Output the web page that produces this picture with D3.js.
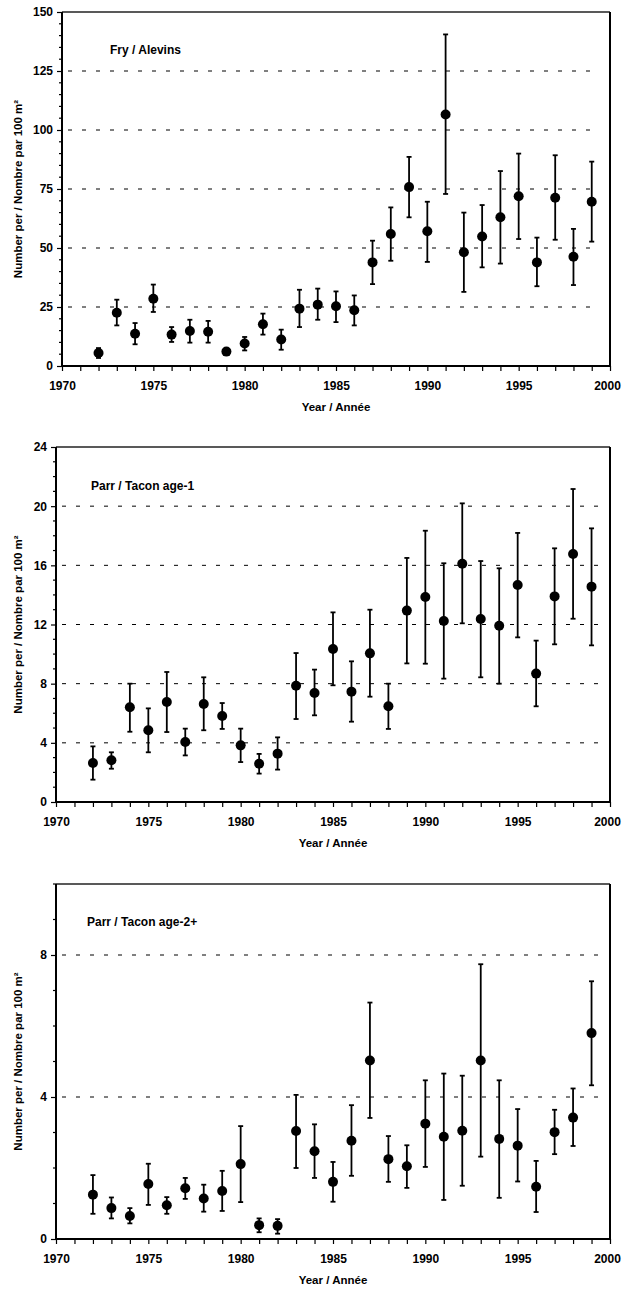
<!DOCTYPE html>
<html>
<head>
<meta charset="utf-8">
<script src="https://d3js.org/d3.v7.min.js"></script>
<style>
  body { margin: 0; background: #fff; }
  svg text { font-family: Arial, "Liberation Sans", sans-serif; font-weight: bold; fill: #000; }
</style>
</head>
<body>
<div id="chart"></div>
<script>
"use strict";

var years = [1972, 1973, 1974, 1975, 1976, 1977, 1978, 1979, 1980, 1981, 1982, 1983, 1984, 1985,
             1986, 1987, 1988, 1989, 1990, 1991, 1992, 1993, 1994, 1995, 1996, 1997, 1998, 1999];

// fry / alevins
var fryMean = [5.5, 22.6, 13.7, 28.5, 13.3, 14.8, 14.5, 6.1, 9.5, 17.7, 11.2, 24.3, 26.0, 25.3,
               23.6, 43.9, 55.9, 75.8, 57.1, 106.6, 48.2, 54.9, 63.0, 71.9, 43.9, 71.3, 46.3, 69.6];
var fryLow  = [3.4, 17.2, 9.2, 22.9, 10.2, 9.9, 9.9, 5.0, 6.6, 13.3, 6.9, 16.5, 19.6, 18.6,
               17.2, 34.7, 44.6, 63.0, 44.1, 72.9, 31.4, 41.8, 43.4, 53.8, 33.8, 53.5, 34.3, 52.7];
var fryHigh = [7.6, 28.1, 18.2, 34.5, 16.5, 19.6, 19.1, 7.2, 12.3, 22.2, 15.4, 32.3, 32.8, 31.6,
               29.9, 53.1, 67.2, 88.6, 69.6, 140.5, 65.0, 68.2, 82.6, 90.0, 54.4, 89.3, 58.1, 86.6];

// parr age-1
var age1Mean = [2.64, 2.82, 6.40, 4.85, 6.76, 4.06, 6.63, 5.81, 3.83, 2.59, 3.27, 7.86, 7.37, 10.34,
                7.46, 10.05, 6.47, 12.94, 13.86, 12.24, 16.11, 12.37, 11.92, 14.67, 8.68, 13.90, 16.77, 14.56];
var age1Low  = [1.51, 2.25, 4.75, 3.36, 4.73, 3.15, 4.85, 4.94, 2.70, 1.92, 2.19, 5.61, 5.86, 7.89,
                5.43, 7.12, 4.94, 9.37, 9.35, 8.34, 12.08, 8.43, 8.00, 11.13, 6.47, 10.66, 12.39, 10.59];
var age1High = [3.76, 3.36, 8.00, 6.33, 8.79, 4.96, 8.43, 6.69, 4.96, 3.25, 4.37, 10.07, 8.95, 12.82,
                9.51, 13.00, 8.00, 16.50, 18.34, 16.14, 20.19, 16.29, 15.80, 18.19, 10.91, 17.15, 21.16, 18.50];

// parr age-2+
var age2Mean = [1.25, 0.87, 0.65, 1.55, 0.95, 1.43, 1.14, 1.35, 2.11, 0.39, 0.37, 3.04, 2.47, 1.61,
                2.77, 5.03, 2.25, 2.05, 3.25, 2.88, 3.05, 5.03, 2.82, 2.63, 1.47, 3.01, 3.42, 5.80];
var age2Low  = [0.71, 0.58, 0.44, 0.96, 0.71, 1.13, 0.77, 0.79, 1.04, 0.19, 0.15, 2.00, 1.72, 1.05,
                1.78, 3.41, 1.61, 1.44, 2.03, 1.10, 1.50, 2.32, 1.16, 1.62, 0.76, 2.39, 2.62, 4.33];
var age2High = [1.80, 1.17, 0.87, 2.12, 1.18, 1.72, 1.53, 1.92, 3.18, 0.58, 0.56, 4.06, 3.23, 2.17,
                3.77, 6.66, 2.90, 2.64, 4.47, 4.66, 4.60, 7.74, 4.47, 3.66, 2.20, 3.64, 4.24, 7.26];

var xTicks = [1970, 1975, 1980, 1985, 1990, 1995, 2000];
var fryTicks = [0, 25, 50, 75, 100, 125, 150];
var age1Ticks = [0, 4, 8, 12, 16, 20, 24];
var age2Ticks = [0, 4, 8];

var yTitle = "Number per / Nombre par 100 m²";
var xTitle = "Year / Année";

var svg = d3.select("#chart").append("svg").attr("width", 622).attr("height", 1291);

function drawPanel(p) {
  var x = d3.scaleLinear().domain([1970, 2000]).range([p.left, 610]);
  var y = d3.scaleLinear().domain([0, p.ymax]).range([p.bottom, p.top]);
  var g = svg.append("g");

  // dashed grid
  g.selectAll(".grid").data(p.grid).enter().append("line")
    .attr("x1", p.left).attr("x2", 600)
    .attr("y1", function(d) { return y(d); }).attr("y2", function(d) { return y(d); })
    .attr("stroke", "#000").attr("stroke-width", 1)
    .attr("stroke-dasharray", "4,10").attr("stroke-dashoffset", -6 - 14);

  // frame top / right
  g.append("line").attr("x1", p.left).attr("x2", 610).attr("y1", p.top).attr("y2", p.top)
    .attr("stroke", "#222").attr("stroke-width", 1.5);
  g.append("line").attr("x1", 610).attr("x2", 610).attr("y1", p.top).attr("y2", p.bottom)
    .attr("stroke", "#000").attr("stroke-width", 2);

  // y axis
  var yAxis = d3.axisLeft(y).tickValues(p.ticks).tickSize(5).tickPadding(4).tickFormat(d3.format("d"));
  var ya = g.append("g").attr("transform", "translate(" + p.left + ",0)").call(yAxis);
  var minor = d3.range(0, p.ymax + 0.001, p.minor).filter(function(v) { return p.ticks.indexOf(v) < 0; });
  ya.selectAll(".minor").data(minor).enter().append("line").attr("class", "minor")
    .attr("x1", -3).attr("x2", 0)
    .attr("y1", function(d) { return y(d); }).attr("y2", function(d) { return y(d); })
    .attr("stroke", "#000").attr("stroke-width", 1.2);

  // x axis
  var xAxis = d3.axisBottom(x).tickValues(d3.range(1970, 2001)).tickSize(5).tickPadding(10)
    .tickFormat(function(d) { return xTicks.indexOf(d) >= 0 ? d : ""; });
  var xa = g.append("g").attr("transform", "translate(0," + p.bottom + ")").call(xAxis);

  [ya, xa].forEach(function(a) {
    a.select(".domain").attr("stroke", "#000").attr("stroke-width", 2);
    a.selectAll(".tick line").attr("stroke", "#000").attr("stroke-width", 1.2);
    a.selectAll("text").style("font-size", "12px").style("font-weight", "bold")
      .style("font-family", "Arial, 'Liberation Sans', sans-serif").attr("fill", "#000");
  });
  ya.select(".domain").attr("d", "M0," + p.top + "V" + p.bottom);
  xa.select(".domain").attr("d", "M" + p.left + ",0H610");
  // last year label sits against the page edge
  xa.selectAll(".tick text").filter(function(d) { return d === 2000; }).attr("dx", "-3");

  // titles
  g.append("text").attr("x", p.titleX).attr("y", p.titleY).attr("dy", "0.35em")
    .style("font-size", "12px").text(p.title);
  g.append("text").attr("x", (p.left + 610) / 2).attr("y", p.bottom + 41).attr("dy", "0.35em")
    .attr("text-anchor", "middle").style("font-size", "11.5px").text(xTitle);
  g.append("text")
    .attr("transform", "translate(18," + ((p.top + p.bottom) / 2) + ") rotate(-90)")
    .attr("dy", "0.35em").attr("text-anchor", "middle").style("font-size", "11.5px").text(yTitle);

  // error bars
  var eb = g.selectAll(".eb").data(years).enter().append("g").attr("class", "eb");
  eb.append("line")
    .attr("x1", function(d) { return x(d); }).attr("x2", function(d) { return x(d); })
    .attr("y1", function(d, i) { return y(p.low[i]); }).attr("y2", function(d, i) { return y(p.high[i]); })
    .attr("stroke", "#000").attr("stroke-width", 1.8);
  eb.append("line")
    .attr("x1", function(d) { return x(d) - 2.5; }).attr("x2", function(d) { return x(d) + 2.5; })
    .attr("y1", function(d, i) { return y(p.low[i]); }).attr("y2", function(d, i) { return y(p.low[i]); })
    .attr("stroke", "#000").attr("stroke-width", 1.8);
  eb.append("line")
    .attr("x1", function(d) { return x(d) - 2.5; }).attr("x2", function(d) { return x(d) + 2.5; })
    .attr("y1", function(d, i) { return y(p.high[i]); }).attr("y2", function(d, i) { return y(p.high[i]); })
    .attr("stroke", "#000").attr("stroke-width", 1.8);

  // points
  g.selectAll(".pt").data(years).enter().append("circle").attr("class", "pt")
    .attr("cx", function(d) { return x(d); })
    .attr("cy", function(d, i) { return y(p.mean[i]); })
    .attr("r", 5).attr("fill", "#000");
}

drawPanel({ left: 62, top: 12, bottom: 366, ymax: 150, ticks: fryTicks, minor: 5,
  grid: [25, 50, 75, 100, 125], mean: fryMean, low: fryLow, high: fryHigh,
  title: "Fry / Alevins", titleX: 110, titleY: 50 });
drawPanel({ left: 56, top: 447, bottom: 802, ymax: 24, ticks: age1Ticks, minor: 1,
  grid: [4, 8, 12, 16, 20], mean: age1Mean, low: age1Low, high: age1High,
  title: "Parr / Tacon age-1", titleX: 91, titleY: 486 });
drawPanel({ left: 56, top: 884, bottom: 1239, ymax: 10, ticks: age2Ticks, minor: 1,
  grid: [4, 8], mean: age2Mean, low: age2Low, high: age2High,
  title: "Parr / Tacon age-2+", titleX: 87, titleY: 922 });
</script>
</body>
</html>
